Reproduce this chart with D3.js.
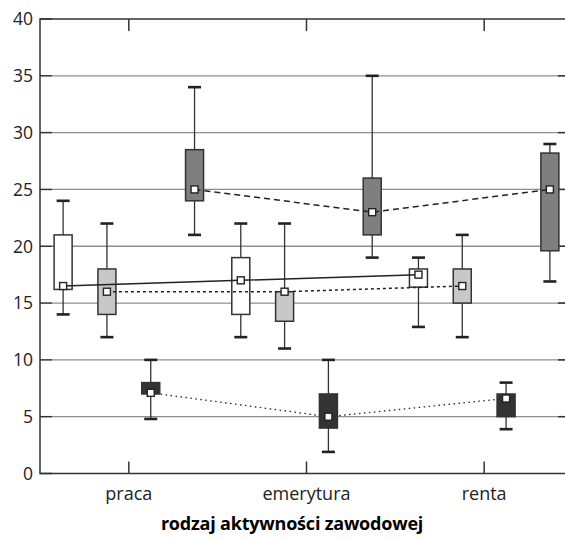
<!DOCTYPE html>
<html>
<head>
<meta charset="utf-8">
<script src="https://cdn.jsdelivr.net/npm/d3@7"></script>
<style>
  body { margin: 0; background: #fff; }
  svg { display: block; overflow: hidden; }
</style>
</head>
<body>
<div id="chart"></div>
<script>
// categories and series
const categories = ["praca", "emerytura", "renta"];
const seriesNames = ["s1", "s2", "s3", "s4"];
const yTicks = [0, 5, 10, 15, 20, 25, 30, 35, 40];

// box stats per series, one entry per category: [min, q1, median, q3, max]
const s1 = [[14, 16.2, 16.5, 21, 24], [12, 14, 17, 19, 22], [12.9, 16.4, 17.5, 18, 19]];
const s2 = [[12, 14, 16, 18, 22], [11, 13.4, 16, 16, 22], [12, 15, 16.5, 18, 21]];
const s3 = [[4.8, 7, 7.1, 8, 10], [1.9, 4, 5, 7, 10], [3.9, 5, 6.6, 7, 8]];
const s4 = [[21, 24, 25, 28.5, 34], [19, 21, 23, 26, 35], [16.9, 19.6, 25, 28.2, 29]];
const seriesData = [s1, s2, s3, s4];

const fills = ["#ffffff", "#c8c8c8", "#333333", "#7f7f7f"];
const medianDash = [null, "3,3", "1.5,3.5", "6,4"];

const width = 565, height = 539;
const mLeft = 40, mRight = 573, mTop = 19, mBottom = 473.5;

const svg = d3.select("#chart").append("svg")
  .attr("width", width)
  .attr("height", height);

const x = d3.scaleBand().domain(categories).range([mLeft, mRight]);
const xs = d3.scaleBand().domain(seriesNames).range([-92, 92]).paddingInner(0.2).paddingOuter(0.2);
const y = d3.scaleLinear().domain([0, 40]).range([mBottom, mTop]);

const boxW = 18, capW = 13;
const cx = (c, i) => x(categories[c]) + x.bandwidth() / 2 + xs(seriesNames[i]) + xs.bandwidth() / 2;

// grid lines
svg.append("g")
  .selectAll("line")
  .data(yTicks.filter(d => d > 0 && d < 40))
  .join("line")
  .attr("x1", mLeft + 12).attr("x2", mRight)
  .attr("y1", d => y(d)).attr("y2", d => y(d))
  .attr("stroke", "#8e8e8e").attr("stroke-width", 1.3);

// y axis ticks (left and right side)
const yAxis = svg.append("g");
yAxis.selectAll("line.l")
  .data(yTicks)
  .join("line").attr("class", "l")
  .attr("x1", mLeft).attr("x2", mLeft + 12)
  .attr("y1", d => y(d)).attr("y2", d => y(d))
  .attr("stroke", "#333").attr("stroke-width", 1.5);
yAxis.selectAll("line.r")
  .data(yTicks.filter(d => d > 0 && d < 40))
  .join("line").attr("class", "r")
  .attr("x1", mRight - 15).attr("x2", mRight)
  .attr("y1", d => y(d)).attr("y2", d => y(d))
  .attr("stroke", "#333").attr("stroke-width", 1.5);
yAxis.selectAll("text")
  .data(yTicks)
  .join("text")
  .attr("x", 33)
  .attr("y", d => y(d))
  .attr("dy", "0.36em")
  .attr("text-anchor", "end")
  .attr("font-family", "Open Sans, sans-serif")
  .attr("font-size", 17.5)
  .attr("fill", "#222")
  .text(d => d);

// frame
svg.append("path")
  .attr("d", `M${mRight},${mTop}H${mLeft}V${mBottom}H${mRight}`)
  .attr("fill", "none")
  .attr("stroke", "#333")
  .attr("stroke-width", 1.5);

// category ticks top and bottom
const xt = svg.append("g");
categories.forEach(c => {
  const px = x(c) + x.bandwidth() / 2;
  xt.append("line").attr("x1", px).attr("x2", px).attr("y1", mTop).attr("y2", mTop + 12)
    .attr("stroke", "#333").attr("stroke-width", 1.5);
  xt.append("line").attr("x1", px).attr("x2", px).attr("y1", mBottom).attr("y2", mBottom - 12)
    .attr("stroke", "#333").attr("stroke-width", 1.5);
  xt.append("text")
    .attr("x", px).attr("y", 500)
    .attr("text-anchor", "middle")
    .attr("font-family", "Open Sans, sans-serif")
    .attr("font-size", 18)
    .attr("fill", "#222")
    .text(c);
});

// axis title
svg.append("text")
  .attr("x", 292).attr("y", 530)
  .attr("text-anchor", "middle")
  .attr("font-family", "Open Sans, sans-serif")
  .attr("font-weight", "bold")
  .attr("font-size", 18)
  .attr("letter-spacing", "-0.2")
  .attr("fill", "#000")
  .text("rodzaj aktywności zawodowej");

// boxes
seriesData.forEach((series, i) => {
  const g = svg.append("g");
  series.forEach((d, c) => {
    const px = cx(c, i);
    g.append("line").attr("x1", px).attr("x2", px).attr("y1", y(d[0])).attr("y2", y(d[4]))
      .attr("stroke", "#333").attr("stroke-width", 1.3);
    [d[0], d[4]].forEach(v => {
      g.append("line").attr("x1", px - capW / 2).attr("x2", px + capW / 2)
        .attr("y1", y(v)).attr("y2", y(v))
        .attr("stroke", "#222").attr("stroke-width", 2.6);
    });
    g.append("rect")
      .attr("x", px - boxW / 2).attr("width", boxW)
      .attr("y", y(d[3])).attr("height", y(d[1]) - y(d[3]))
      .attr("fill", fills[i]).attr("stroke", "#333").attr("stroke-width", 1.5);
  });
});

// median lines and markers
seriesData.forEach((series, i) => {
  const line = d3.line().x((d, c) => cx(c, i)).y(d => y(d[2]));
  svg.append("path")
    .datum(series)
    .attr("d", line)
    .attr("fill", "none")
    .attr("stroke", "#222")
    .attr("stroke-width", i === 2 ? 1.3 : 1.5)
    .attr("stroke-dasharray", medianDash[i]);
  svg.append("g").selectAll("rect")
    .data(series)
    .join("rect")
    .attr("x", (d, c) => cx(c, i) - 3.5)
    .attr("y", d => y(d[2]) - 3.5)
    .attr("width", 7).attr("height", 7)
    .attr("fill", "#fff").attr("stroke", "#222").attr("stroke-width", 1.4);
});
</script>
</body>
</html>
